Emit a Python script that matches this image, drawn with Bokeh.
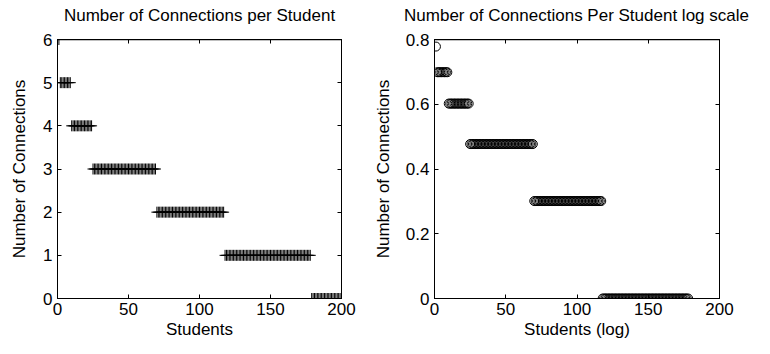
import numpy as np
from bokeh.plotting import figure
from bokeh.layouts import row, column
from bokeh.models import FixedTicker, LinearAxis, Range1d, ColumnDataSource, Span
from bokeh.embed import file_html
from bokeh.resources import INLINE

# Data: connection levels and number of students at each level
levels = [6, 5, 4, 3, 2, 1, 0]
counts = [1, 8, 15, 45, 48, 61, 21]

connections = np.repeat(levels, counts)
students = np.arange(1, len(connections) + 1)

pos = connections > 0
log_students = students[pos]
log_connections = np.log10(connections[pos])

left_yticks = [0, 1, 2, 3, 4, 5, 6]
right_yticks = [0, 0.2, 0.4, 0.6, 0.8]
right_ylabels = {0: "0", 0.2: "0.2", 0.4: "0.4", 0.6: "0.6", 0.8: "0.8"}
xticks = [0, 50, 100, 150, 200]

left_title = "Number of Connections per Student"
right_title = "Number of Connections Per Student log scale"

FONT = "Liberation Sans"
FS = "17px"
TITLE_H = 28
H = 354 - TITLE_H
TOP, BOTTOM = 39 - TITLE_H, 56


def style(p, yticks, yoverrides=None):
    p.outline_line_color = "black"
    p.outline_line_width = 1
    p.outline_line_alpha = 1
    p.xgrid.visible = False
    p.ygrid.visible = False
    axes = [p.xaxis[0], p.yaxis[0]]
    axes[0].ticker = FixedTicker(ticks=xticks)
    axes[1].ticker = FixedTicker(ticks=yticks)
    if yoverrides:
        axes[1].major_label_overrides = yoverrides
    for ax in axes:
        ax.major_tick_in = 4
        ax.major_tick_out = 0
        ax.minor_tick_in = 0
        ax.minor_tick_out = 0
        ax.axis_line_color = "black"
        ax.major_tick_line_color = "black"
        ax.major_label_text_font = FONT
        ax.major_label_text_font_size = FS
        ax.major_label_text_color = "black"
        ax.axis_label_text_font = FONT
        ax.axis_label_text_font_size = FS
        ax.axis_label_text_font_style = "normal"
        ax.axis_label_text_color = "black"
    axes[0].major_label_standoff = 4
    axes[0].axis_label_standoff = 2
    axes[1].major_label_standoff = 5


def add_box_axes(p, yticks, ytop):
    top = LinearAxis(ticker=FixedTicker(ticks=xticks))
    right = LinearAxis(ticker=FixedTicker(ticks=yticks))
    for ax in (top, right):
        ax.major_label_text_font_size = "0px"
        ax.major_label_text_alpha = 0
        ax.major_label_standoff = 0
        ax.major_tick_in = 4
        ax.major_tick_out = 0
        ax.minor_tick_in = 0
        ax.minor_tick_out = 0
        ax.axis_line_color = "black"
        ax.major_tick_line_color = "black"
    p.add_layout(top, "above")
    p.add_layout(right, "right")
    # explicit top edge of the box
    p.add_layout(Span(location=ytop, dimension="width", line_color="black", line_width=1.5))


def title_fig(text, width, left, right):
    t = figure(width=width, height=TITLE_H, output_backend="svg", toolbar_location=None,
               title=text, x_range=Range1d(0, 1), y_range=Range1d(0, 1),
               min_border_left=left, min_border_right=right,
               min_border_top=0, min_border_bottom=0)
    t.axis.visible = False
    t.xgrid.visible = False
    t.ygrid.visible = False
    t.outline_line_color = None
    t.title.text_font = FONT
    t.title.text_font_size = FS
    t.title.text_font_style = "normal"
    t.title.text_color = "black"
    t.title.align = "center"
    t.title.standoff = 6
    return t


# Left plot
p1 = figure(width=370, height=H, output_backend="svg", toolbar_location=None,
            x_range=Range1d(0, 200), y_range=Range1d(0, 6),
            min_border_left=57, min_border_right=29,
            min_border_top=TOP, min_border_bottom=BOTTOM)
src1 = ColumnDataSource(dict(x=students, y=connections))
p1.scatter("x", "y", source=src1, marker="cross", size=11,
           line_color="black", line_width=1)
p1.xaxis.axis_label = "Students"
p1.yaxis.axis_label = "Number of Connections"
style(p1, left_yticks)
add_box_axes(p1, left_yticks, left_yticks[-1])
p1.yaxis[0].axis_label_standoff = 11
t1 = title_fig(left_title, 370, 57, 29)

# Right plot
p2 = figure(width=400, height=H, output_backend="svg", toolbar_location=None,
            x_range=Range1d(0, 200), y_range=Range1d(0, 0.8),
            min_border_left=63, min_border_right=51,
            min_border_top=TOP, min_border_bottom=BOTTOM)
src2 = ColumnDataSource(dict(x=log_students, y=log_connections))
p2.scatter("x", "y", source=src2, marker="circle", size=9,
           line_color="black", line_width=1, fill_color=None)
p2.xaxis.axis_label = "Students (log)"
p2.yaxis.axis_label = "Number of Connections"
style(p2, right_yticks, right_ylabels)
add_box_axes(p2, right_yticks, right_yticks[-1])
p2.yaxis[0].axis_label_standoff = 10
t2 = title_fig(right_title, 400, 63, 51)

layout = column(row(t1, t2), row(p1, p2))
open("out.html", "w").write(file_html(layout, INLINE))
